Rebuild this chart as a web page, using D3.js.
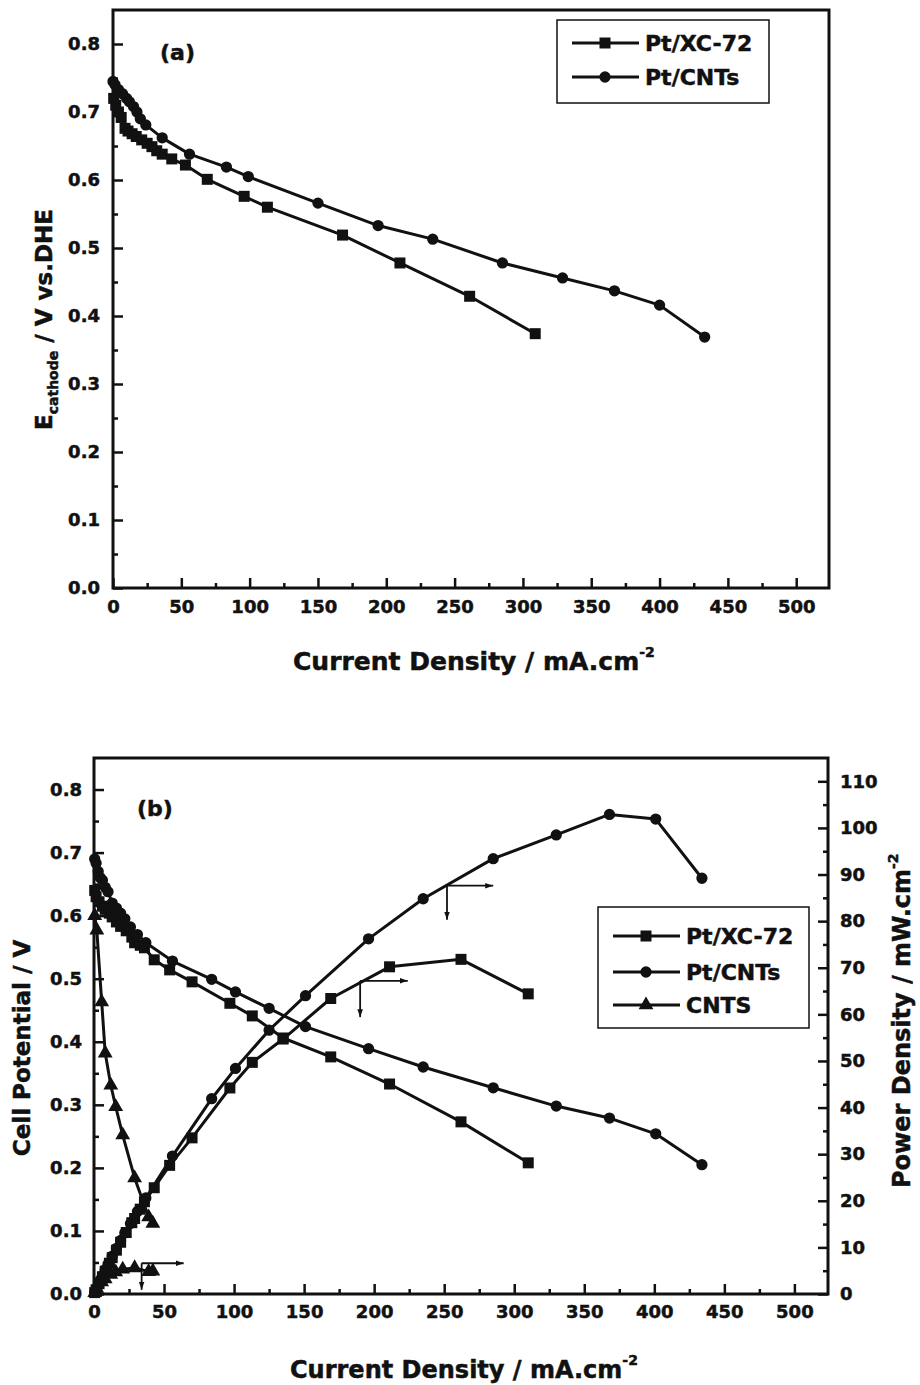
<!DOCTYPE html>
<html>
<head>
<meta charset="utf-8">
<script src="https://cdn.jsdelivr.net/npm/d3@7"></script>
<style>
  body { margin: 0; background: #fff; }
  svg text { font-family: "DejaVu Sans", sans-serif; font-weight: bold; fill: #111; stroke: #111; stroke-width: 0.5px; }
</style>
</head>
<body>
<svg id="chart" width="920" height="1385"></svg>
<script>
// ---- data, panel (a): cathode potential vs current density ----
const aXC72_I = [0.5, 2, 4, 6, 8.8, 11, 14, 17, 21, 25, 28.5, 32, 36, 43, 53, 69, 96, 113, 168, 210, 261, 309]
const aXC72_E = [0.72, 0.71, 0.70, 0.692, 0.676, 0.672, 0.668, 0.664, 0.659, 0.654, 0.649, 0.643, 0.638, 0.631, 0.622, 0.601, 0.576, 0.56, 0.519, 0.478, 0.429, 0.374]
const aCNT_I = [0, 1.5, 4, 7, 10, 12, 15, 17.5, 20, 24, 36, 56, 83, 99, 150, 194, 234, 285, 329, 367, 400, 433]
const aCNT_E = [0.745, 0.74, 0.733, 0.727, 0.72, 0.715, 0.708, 0.70, 0.69, 0.681, 0.662, 0.638, 0.619, 0.605, 0.566, 0.533, 0.513, 0.478, 0.456, 0.437, 0.416, 0.369]

// ---- data, panel (b): cell potential and power density ----
const bXC72_I = [0.5, 1.5, 3.6, 6, 8, 11, 13, 16, 19, 23, 27, 29, 33, 36, 43, 54, 70, 97, 113, 135, 169, 211, 262, 310]
const bXC72_V = [0.64, 0.63, 0.622, 0.615, 0.61, 0.604, 0.598, 0.59, 0.583, 0.576, 0.566, 0.557, 0.553, 0.549, 0.53, 0.514, 0.495, 0.461, 0.441, 0.406, 0.376, 0.333, 0.273, 0.208]
const bXC72_P = [0.3, 0.9, 2.2, 3.7, 4.9, 6.6, 7.8, 9.4, 11.1, 13.2, 15.3, 16.2, 18.2, 19.8, 22.8, 27.6, 33.5, 44.2, 49.7, 54.7, 63.4, 70.2, 71.8, 64.4]
const bCNT_I = [0.5, 1.5, 3, 4.5, 6, 8, 10, 13, 16, 19, 22, 26, 31, 37, 56, 84, 101, 125, 151, 196, 235, 285, 330, 368, 401, 434]
const bCNT_V = [0.69, 0.683, 0.67, 0.66, 0.656, 0.645, 0.638, 0.62, 0.612, 0.604, 0.595, 0.582, 0.57, 0.557, 0.528, 0.499, 0.479, 0.453, 0.424, 0.389, 0.36, 0.327, 0.298, 0.279, 0.254, 0.205]
const bCNT_P = [0.35, 1.0, 2.0, 3.0, 3.9, 5.2, 6.4, 8.1, 9.8, 11.5, 13.1, 15.1, 17.7, 20.6, 29.6, 41.9, 48.4, 56.6, 64.0, 76.2, 84.8, 93.4, 98.5, 102.9, 101.9, 89.2]
const bCNTS_I = [0.5, 2, 5.5, 8, 12, 15.5, 20.5, 29, 39, 42]
const bCNTS_V = [0.6, 0.577, 0.463, 0.382, 0.331, 0.297, 0.252, 0.184, 0.122, 0.112]
const bCNTS_P = [0.3, 1.2, 2.6, 3.2, 4.2, 4.7, 5.3, 5.6, 4.8, 4.9]

// arrows in panel (b): start point, end of the right arrow, end of the down arrow
const arrowI = [34, 190, 252]
const arrowP = [6.6, 67.2, 87.6]
const arrowIEnd = [64, 224, 285]
const arrowPEnd = [0.9, 59.4, 80.3]

// ticks
const xTicks = [0, 50, 100, 150, 200, 250, 300, 350, 400, 450, 500]
const xMinor = [25, 75, 125, 175, 225, 275, 325, 375, 425, 475]
const vTicks = [0, 0.1, 0.2, 0.3, 0.4, 0.5, 0.6, 0.7, 0.8]
const vMinor = [0.05, 0.15, 0.25, 0.35, 0.45, 0.55, 0.65, 0.75]
const pTicks = [0, 10, 20, 30, 40, 50, 60, 70, 80, 90, 100, 110]
const pMinor = [5, 15, 25, 35, 45, 55, 65, 75, 85, 95, 105]

const legendA = ["Pt/XC-72", "Pt/CNTs"]
const legendB = ["Pt/XC-72", "Pt/CNTs", "CNTS"]

const INK = "#111"
const svg = d3.select("#chart")

const xA = d3.scaleLinear().domain([0, 524]).range([113, 829])
const yA = d3.scaleLinear().domain([0, 0.85]).range([588, 10])
const xB = d3.scaleLinear().domain([0, 524]).range([94, 828])
const yB = d3.scaleLinear().domain([0, 0.85]).range([1294, 758])
const pB = d3.scaleLinear().domain([0, 115]).range([1294, 758])

const shapes = {
  square: d3.symbol(d3.symbolSquare, 121)(),
  circle: d3.symbol(d3.symbolCircle, 100)(),
  triangle: d3.symbol(d3.symbolTriangle, 95)()
}

function addAxis(axisFn, scale, pos, major, minor, fmt, pad) {
  const t = axisFn === d3.axisBottom ? `translate(0,${pos})` : `translate(${pos},0)`
  const g1 = svg.append("g").attr("transform", t)
    .call(axisFn(scale).tickValues(major).tickSizeInner(-10).tickSizeOuter(0).tickPadding(pad).tickFormat(fmt))
  const g2 = svg.append("g").attr("transform", t)
    .call(axisFn(scale).tickValues(minor).tickSizeInner(-5).tickSizeOuter(0).tickFormat(""))
  ;[g1, g2].forEach(g => {
    g.select(".domain").remove()
    g.selectAll("line").attr("stroke", INK).attr("stroke-width", 2.5)
  })
  g1.selectAll("text").attr("font-size", 18)
}

function frame(xs, ys) {
  const [x0, x1] = xs.range(), [y0, y1] = ys.range()
  svg.append("rect").attr("x", x0).attr("y", y1).attr("width", x1 - x0).attr("height", y0 - y1)
    .attr("fill", "none").attr("stroke", INK).attr("stroke-width", 3)
}

function series(xs, ys, xScale, yScale, shape) {
  const pts = xs.map((x, i) => [xScale(x), yScale(ys[i])])
  svg.append("path").attr("d", d3.line()(pts))
    .attr("fill", "none").attr("stroke", INK).attr("stroke-width", 3).attr("stroke-linejoin", "round")
  svg.append("g").selectAll("path").data(pts).join("path")
    .attr("transform", d => `translate(${d[0]},${d[1]})`)
    .attr("d", shapes[shape]).attr("fill", INK)
}

function legend(x, y, w, h, names, shapeList, rowY) {
  svg.append("rect").attr("x", x).attr("y", y).attr("width", w).attr("height", h)
    .attr("fill", "#fff").attr("stroke", INK).attr("stroke-width", 1.5)
  names.forEach((n, i) => {
    const cy = rowY[i]
    svg.append("line").attr("x1", x + 15).attr("x2", x + 82).attr("y1", cy).attr("y2", cy)
      .attr("stroke", INK).attr("stroke-width", 3)
    svg.append("path").attr("transform", `translate(${x + 48},${cy})`).attr("d", shapes[shapeList[i]]).attr("fill", INK)
    svg.append("text").attr("x", x + 88).attr("y", cy + 8).attr("font-size", 22).text(n)
  })
}

// ---------- panel (a) ----------
frame(xA, yA)
addAxis(d3.axisBottom, xA, 588, xTicks, xMinor, d3.format("d"), 12)
addAxis(d3.axisLeft, yA, 113, vTicks, vMinor, d3.format(".1f"), 13)
series(aXC72_I, aXC72_E, xA, yA, "square")
series(aCNT_I, aCNT_E, xA, yA, "circle")
legend(557, 20, 212, 83, legendA, ["square", "circle"], [43, 77])
svg.append("text").attr("x", 160).attr("y", 60).attr("font-size", 22).text("(a)")

const tA = svg.append("text").attr("x", 293).attr("y", 670).attr("font-size", 25)
tA.append("tspan").text("Current Density / mA.cm")
tA.append("tspan").attr("font-size", 14).attr("dy", -13).text("-2")

const yTA = svg.append("text").attr("transform", "translate(52,430) rotate(-90)").attr("font-size", 23)
yTA.append("tspan").text("E")
yTA.append("tspan").attr("font-size", 14).attr("dy", 6).text("cathode")
yTA.append("tspan").attr("dy", -6).text(" / V vs.DHE")

// ---------- panel (b) ----------
frame(xB, yB)
addAxis(d3.axisBottom, xB, 1294, xTicks, xMinor, d3.format("d"), 11)
addAxis(d3.axisLeft, yB, 94, vTicks, vMinor, d3.format(".1f"), 12)
addAxis(d3.axisRight, pB, 828, pTicks, pMinor, d3.format("d"), 12)

series(bXC72_I, bXC72_V, xB, yB, "square")
series(bCNT_I, bCNT_V, xB, yB, "circle")
series(bCNTS_I, bCNTS_V, xB, yB, "triangle")
series(bXC72_I, bXC72_P, xB, pB, "square")
series(bCNT_I, bCNT_P, xB, pB, "circle")
series(bCNTS_I, bCNTS_P, xB, pB, "triangle")

svg.append("defs").append("marker").attr("id", "ah")
  .attr("viewBox", "0 0 10 10").attr("refX", 10).attr("refY", 5)
  .attr("markerWidth", 8).attr("markerHeight", 8).attr("markerUnits", "userSpaceOnUse")
  .attr("orient", "auto")
  .append("path").attr("d", "M0,1.5 L10,5 L0,8.5 Z").attr("fill", INK)

arrowI.forEach((v, i) => {
  const x0 = xB(v), y0 = pB(arrowP[i])
  svg.append("line").attr("x1", x0).attr("y1", y0).attr("x2", xB(arrowIEnd[i])).attr("y2", y0)
    .attr("stroke", INK).attr("stroke-width", 1.8).attr("marker-end", "url(#ah)")
  svg.append("line").attr("x1", x0).attr("y1", y0).attr("x2", x0).attr("y2", pB(arrowPEnd[i]))
    .attr("stroke", INK).attr("stroke-width", 1.8).attr("marker-end", "url(#ah)")
})

legend(598, 907, 211, 121, legendB, ["square", "circle", "triangle"], [936, 972, 1005])
svg.append("text").attr("x", 137).attr("y", 816).attr("font-size", 22).text("(b)")

const tB = svg.append("text").attr("x", 290).attr("y", 1378).attr("font-size", 24)
tB.append("tspan").text("Current Density / mA.cm")
tB.append("tspan").attr("font-size", 14).attr("dy", -13).text("-2")

svg.append("text").attr("transform", "translate(30,1048) rotate(-90)")
  .attr("text-anchor", "middle").attr("font-size", 23).text("Cell Potential / V")

const yTR = svg.append("text").attr("transform", "translate(910,1188) rotate(-90)").attr("font-size", 24)
yTR.append("tspan").text("Power Density / mW.cm")
yTR.append("tspan").attr("font-size", 14).attr("dy", -12).text("-2")
</script>
</body>
</html>
